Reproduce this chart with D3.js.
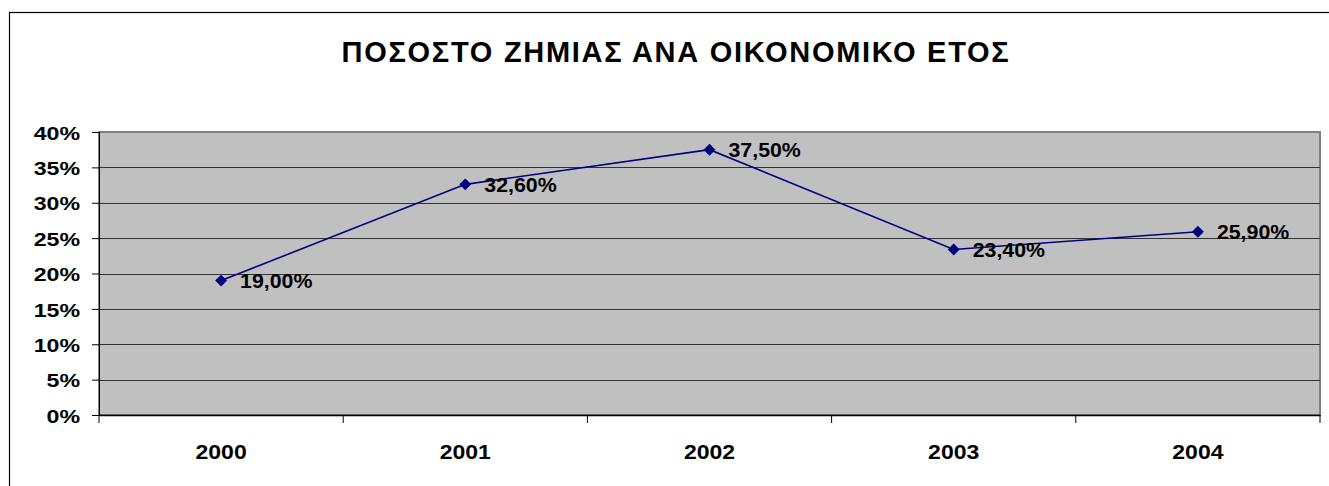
<!DOCTYPE html>
<html><head><meta charset="utf-8">
<script src="https://cdn.jsdelivr.net/npm/d3@7"></script>
<style>body{margin:0;background:#fff;} svg{display:block;}</style>
</head><body>
<svg id="c" width="1329" height="486"></svg>
<script>
const title = "ΠΟΣΟΣΤΟ ΖΗΜΙΑΣ ΑΝΑ ΟΙΚΟΝΟΜΙΚΟ ΕΤΟΣ";
const years = ["2000","2001","2002","2003","2004"];
const values = [0.19, 0.326, 0.375, 0.234, 0.259];
const valueLabels = ["19,00%","32,60%","37,50%","23,40%","25,90%"];
const yTicks = [0,0.05,0.10,0.15,0.20,0.25,0.30,0.35,0.40];

const svg = d3.select("#c");
const font = "'Liberation Sans', Arial, sans-serif";
const L=99, R=1320, T=132, B=415;

// outer chart border
svg.append("rect").attr("x",9.5).attr("y",12.5).attr("width",1340).attr("height",500)
  .attr("fill","none").attr("stroke","#000").attr("stroke-width",1.2);

svg.append("text").attr("x",676).attr("y",62).attr("text-anchor","middle")
  .attr("font-family",font).attr("font-weight","bold").attr("font-size",29)
  .attr("letter-spacing",1.7).attr("fill","#000").text(title);

const x = d3.scaleBand().domain(years).range([L,R]);
const y = d3.scaleLinear().domain([0,0.4]).range([B,T]);

svg.append("rect").attr("x",L).attr("y",T).attr("width",R-L).attr("height",B-T)
  .attr("fill","#C0C0C0").attr("stroke","#808080").attr("stroke-width",2);

// gridlines
svg.append("g").selectAll("line").data(yTicks.filter(d=>d>0 && d<0.4)).join("line")
  .attr("x1",L).attr("x2",R).attr("y1",d=>Math.round(y(d))+0.5).attr("y2",d=>Math.round(y(d))+0.5)
  .attr("stroke","#333").attr("stroke-width",1);

// y axis
const sy = 1.22;
const ya = svg.append("g").attr("transform",`translate(${L},0)`)
  .call(d3.axisLeft(y).tickValues(yTicks).tickSize(7).tickPadding(12).tickFormat(d=>Math.round(d*100)+"%"));
ya.select(".domain").attr("stroke","#000");
ya.selectAll(".tick line").attr("stroke","#000");
ya.selectAll("text").attr("font-family",font).attr("font-weight","bold").attr("font-size",19)
  .attr("fill","#000").attr("x",-19/sy).attr("dy","0.38em").attr("transform",`scale(${sy},1)`);

// x axis
const sx = 1.15;
const xa = svg.append("g").attr("transform",`translate(0,${B})`)
  .call(d3.axisBottom(x).tickSize(0).tickPadding(30));
xa.select(".domain").attr("stroke","#000").attr("stroke-width",1.5);
xa.selectAll("text").attr("font-family",font).attr("font-weight","bold").attr("font-size",20)
  .attr("fill","#000").attr("transform",`scale(${sx},1)`);
const bounds = years.map(d=>x(d)).concat([R]);
svg.append("g").selectAll("line").data(bounds).join("line")
  .attr("x1",d=>d).attr("x2",d=>d).attr("y1",B).attr("y2",B+8).attr("stroke","#000");

// line
const cx = d=>x(d)+x.bandwidth()/2;
const pts = years.map((d,i)=>[cx(d), y(values[i])]);
svg.append("path").attr("d",d3.line()(pts)).attr("fill","none").attr("stroke","#000080").attr("stroke-width",1.6);
svg.append("g").selectAll("path").data(pts).join("path")
  .attr("d",d3.symbol().type(d3.symbolDiamond2).size(90))
  .attr("transform",d=>`translate(${d[0]},${d[1]})`).attr("fill","#000080");

svg.append("g").selectAll("text").data(pts).join("text")
  .attr("transform",d=>`translate(${d[0]+19},${d[1]+7.5}) scale(1.04,1)`)
  .attr("font-family",font).attr("font-weight","bold").attr("font-size",20.5)
  .attr("fill","#000")
  .text((d,i)=>valueLabels[i]);
</script>
</body></html>
